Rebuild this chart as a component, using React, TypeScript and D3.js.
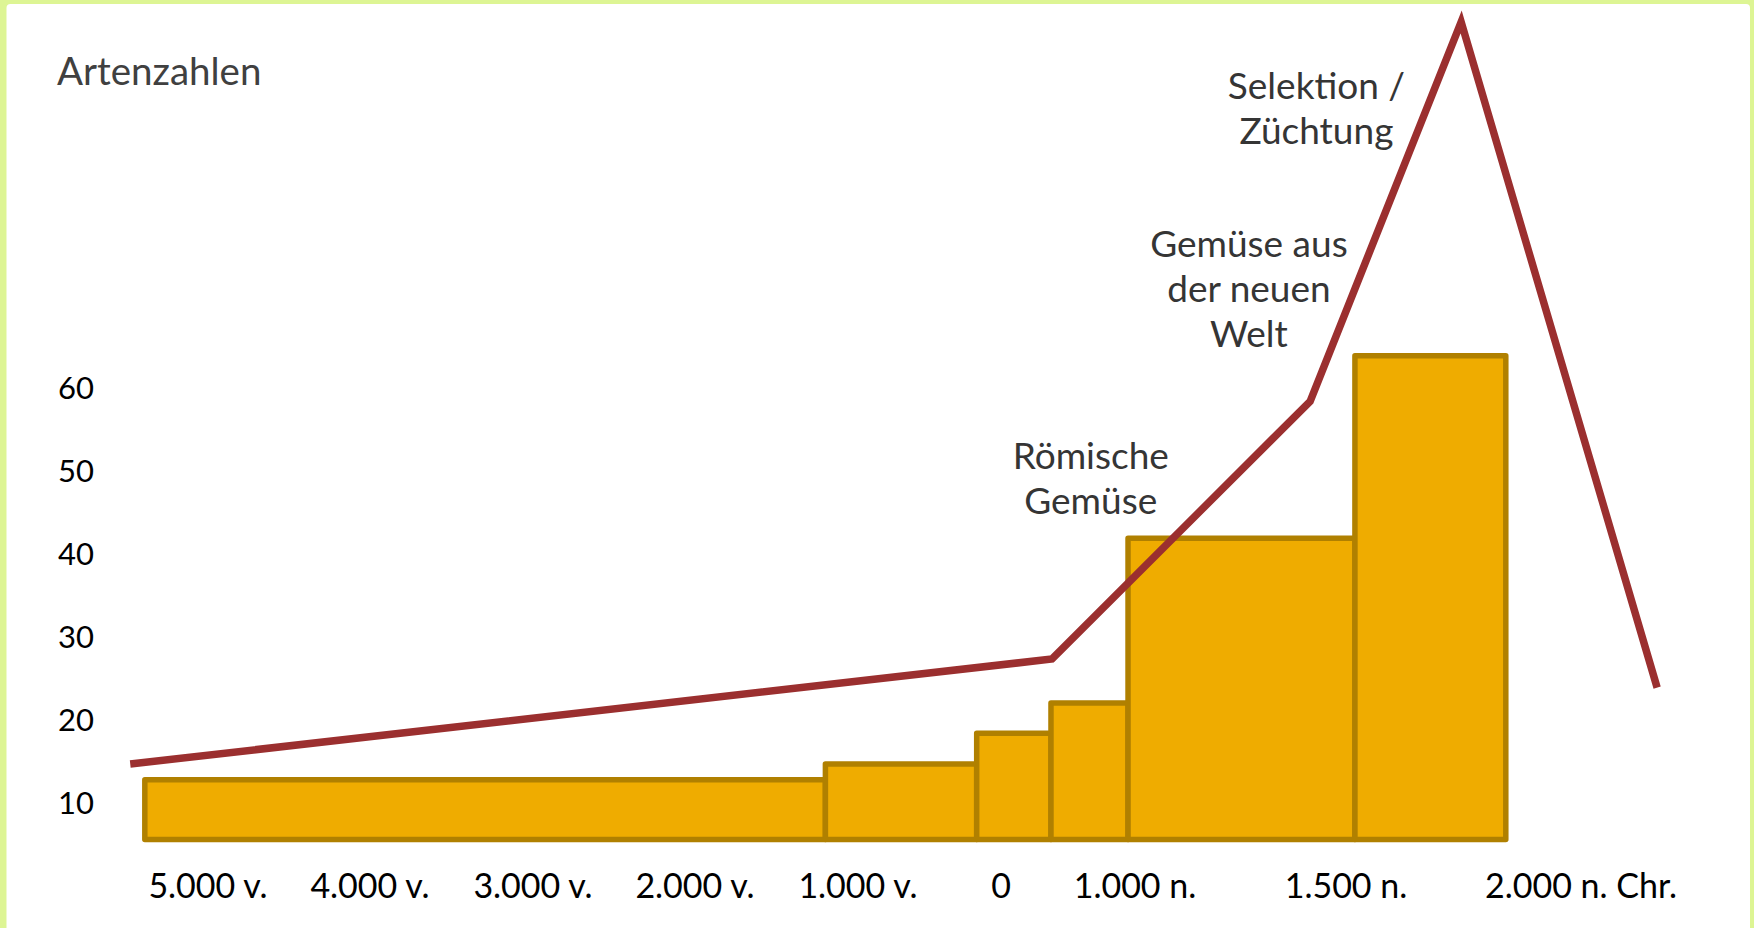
import * as d3 from 'd3'

// x axis: time labels and their years
const tickYears = [-5000, -4000, -3000, -2000, -1000, 0, 1000, 1500, 2000]
const tickLabels = ['5.000 v.', '4.000 v.', '3.000 v.', '2.000 v.', '1.000 v.', '0', '1.000 n.', '1.500 n.', '2.000 n. Chr.']

// y axis ticks
const yTicks = [10, 20, 30, 40, 50, 60]

// bars: each spans [barFrom, barTo] years, up to barValue
const barFrom = [-5390, -1200, -170, 373, 948, 1519]
const barTo = [-1200, -170, 373, 948, 1519, 1840]
const barValue = [12.8, 14.7, 18.4, 22.05, 41.9, 63.9]
const barBase = 5.6

// trend line
const lineYears = [-5480, 381, 1415, 1745, 2162]
const lineValues = [14.7, 27.35, 58.4, 104.1, 23.9]

// annotations
const noteYears = [670, 1270, 1430]
const noteValues = [51.9, 77.35, 96.4]
const noteLines = [
  ['Römische', 'Gemüse'],
  ['Gemüse aus', 'der neuen', 'Welt'],
  ['Selektion /', 'Züchtung'],
]

// layout
const W = 1754
const H = 928
const xStops = [208, 370, 533, 695, 858, 1001, 1135, 1346, 1581]
const font = 'Lato, "Open Sans", sans-serif'

const App = () => {
  const x = d3.scaleLinear().domain(tickYears).range(xStops)
  const y = d3.scaleLinear().domain([0, 60]).range([886, 388])

  const line = d3.line<number>()
    .x((_, i) => x(lineYears[i]))
    .y(d => y(d))

  return (
    <>
      <style>{`body{margin:0}`}</style>
      <svg width={W} height={H} style={{display: 'block'}} fontFamily={font}>
        <rect x={0} y={0} width={W} height={H} fill="#ddf594" />
        <rect x={6.5} y={4} width={W - 10.5} height={H} rx={4} fill="#ffffff" />

        <text x={57} y={71} dy="0.36em" fontSize={38.5} fill="#404040">Artenzahlen</text>

        {/* y tick labels */}
        <g fontSize={31} fill="#000" textAnchor="end">
          {yTicks.map(t => (
            <text key={t} x={94} y={y(t)} dy="0.36em">{t}</text>
          ))}
        </g>

        {/* bars */}
        <g fill="#efac00" stroke="#b08000" strokeWidth={5.5} strokeLinejoin="round">
          {barValue.map((v, i) => (
            <rect
              key={i}
              x={x(barFrom[i])}
              y={y(v)}
              width={x(barTo[i]) - x(barFrom[i])}
              height={y(barBase) - y(v)}
            />
          ))}
        </g>

        {/* trend line */}
        <path
          d={line(lineValues) || ''}
          fill="none"
          stroke="#9b2f2f"
          strokeWidth={7.5}
          strokeLinejoin="miter"
        />

        {/* x tick labels */}
        <g fontSize={34} fill="#000" textAnchor="middle">
          {tickYears.map((t, i) => (
            <text key={t} x={x(t)} y={886} dy="0.36em">{tickLabels[i]}</text>
          ))}
        </g>

        {/* annotations */}
        <g fontSize={37} fill="#353535" textAnchor="middle">
          {noteLines.map((lines, i) => (
            <text key={i} x={x(noteYears[i])} y={y(noteValues[i])}>
              {lines.map((l, j) => (
                <tspan key={j} x={x(noteYears[i])} dy={j === 0 ? '0.36em' : 45}>{l}</tspan>
              ))}
            </text>
          ))}
        </g>
      </svg>
    </>
  )
}

export default App
